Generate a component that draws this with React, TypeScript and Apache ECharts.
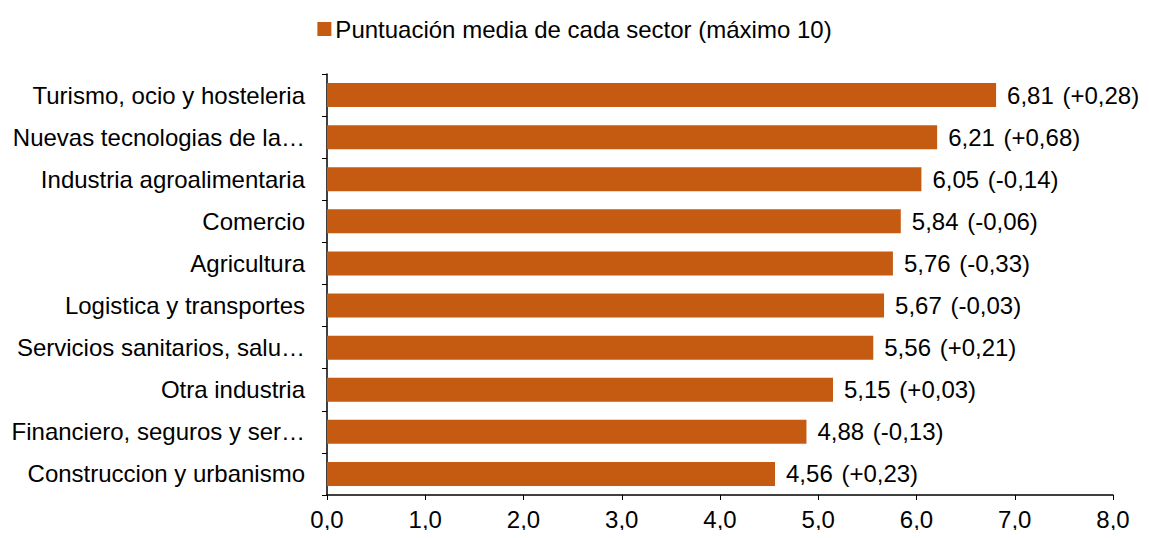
import React, { useEffect, useRef } from "react";
import * as echarts from "echarts";

const categories = [
  "Turismo, ocio y hosteleria",
  "Nuevas tecnologias de la…",
  "Industria agroalimentaria",
  "Comercio",
  "Agricultura",
  "Logistica y transportes",
  "Servicios sanitarios, salu…",
  "Otra industria",
  "Financiero, seguros y ser…",
  "Construccion y urbanismo",
];
const scores = [6.81, 6.21, 6.05, 5.84, 5.76, 5.67, 5.56, 5.15, 4.88, 4.56];
const changes = [0.28, 0.68, -0.14, -0.06, -0.33, -0.03, 0.21, 0.03, -0.13, 0.23];
const seriesName = "Puntuación media de cada sector (máximo 10)";

const fmt = (v: number, d: number) => v.toFixed(d).replace(".", ",");
const signed = (v: number) => (v >= 0 ? "+" : "-") + fmt(Math.abs(v), 2);

export default function App() {
  const ref = useRef<HTMLDivElement>(null);
  useEffect(() => {
    if (!ref.current) return;
    const chart = echarts.init(ref.current, null, { renderer: "svg" });
    const font = "'Liberation Sans', Arial, sans-serif";
    chart.setOption({
      animation: false,
      textStyle: { fontFamily: font },
      legend: {
        top: 12,
        left: "center",
        icon: "rect",
        itemWidth: 14,
        itemHeight: 14,
        itemGap: 5,
        textStyle: { fontSize: 24, color: "#000", fontFamily: font, padding: [0, 0, 0, -1] },
        data: [seriesName],
      },
      grid: { left: 327, right: 36, top: 74, bottom: 43 },
      xAxis: {
        type: "value",
        min: 0,
        max: 8,
        interval: 1,
        axisLine: { show: true, lineStyle: { color: "#000", width: 1.5 } },
        axisTick: { show: true, length: 5, lineStyle: { color: "#000" } },
        splitLine: { show: false },
        axisLabel: {
          fontSize: 24,
          color: "#000",
          fontFamily: font,
          margin: 12,
          formatter: (v: number) => fmt(v, 1),
        },
      },
      yAxis: {
        type: "category",
        inverse: true,
        data: categories,
        axisLine: { show: true, lineStyle: { color: "#000", width: 1.5 } },
        axisTick: { show: true, length: 5, lineStyle: { color: "#000" } },
        axisLabel: { fontSize: 24, color: "#000", fontFamily: font, margin: 22 },
      },
      series: [
        {
          name: seriesName,
          type: "bar",
          data: scores,
          barWidth: 24,
          itemStyle: { color: "#C55A11" },
          label: {
            show: true,
            position: "right",
            distance: 11,
            fontSize: 24,
            color: "#000",
            fontFamily: font,
            formatter: (p: any) => `${fmt(p.value, 2)}\u200a (${signed(changes[p.dataIndex])})`,
          },
        },
      ],
    });
    return () => chart.dispose();
  }, []);
  return <div ref={ref} style={{ width: 1149, height: 538, margin: -8 }} />;
}
